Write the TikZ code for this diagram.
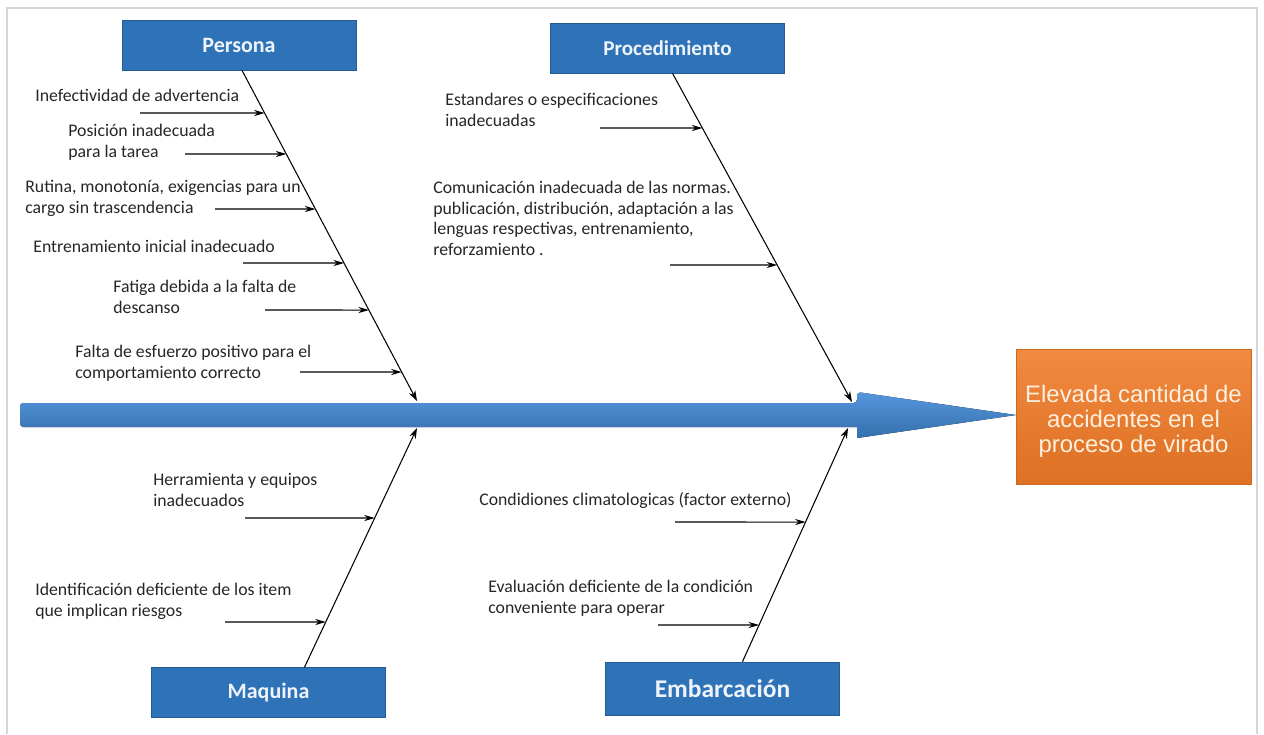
\documentclass[tikz,border=0pt]{standalone}
\usepackage{fontspec}
\setmainfont{Carlito}
\newfontfamily\arialfont{Liberation Sans}
\usepackage{tikz}
\usetikzlibrary{arrows.meta,positioning,calc}
\definecolor{catblue}{HTML}{2E72B8}
\definecolor{spineblue}{HTML}{428BD8}
\definecolor{efforange}{HTML}{F07A26}
\definecolor{framegray}{HTML}{D6D6D6}

\begin{document}
\begin{tikzpicture}[x=0.02cm,y=-0.02cm,
  cat/.style={draw=catblue!80!black,fill=catblue,minimum width=4.68cm,minimum height=1cm,
              inner sep=0pt,text=white!92!catblue,font=\fontsize{12.5}{14}\selectfont\bfseries},
  cause/.style={anchor=north west,inner sep=0pt,align=left,text=black!85,
                font=\fontsize{10.1}{12.1}\selectfont},
  bone/.style={-{Stealth[length=6pt,width=4pt]},line width=0.6pt},
  sub/.style={-{Stealth[length=6pt,width=3.5pt]},line width=0.6pt},
  effect/.style={draw=efforange!85!black,top color=efforange!88!white,bottom color=efforange!92!black,
                 minimum width=4.7cm,minimum height=2.7cm,inner sep=0pt,align=center,
                 text=orange!12!white,font=\arialfont\fontsize{13.6}{14.3}\selectfont},
]
  \useasboundingbox (0,0) rectangle (1264,734);
  \draw[framegray,line width=0.8pt] (7,734) -- (7,8) -- (1257,8) -- (1257,734);

  % spine
  \fill[top color=spineblue!90!white,bottom color=spineblue!80!black,rounded corners=2pt]
    (20,403) -- (857,403) -- (857,392) [sharp corners] -- (1016,415) -- (857,438) -- (857,427) [rounded corners=2pt] -- (20,427) -- cycle;
  \node[effect] (efecto) at (1133.5,416.5) {\rule{0pt}{15.5pt}Elevada cantidad de\\accidentes en el\\proceso de virado};

  % categories
  \node[cat] (persona) at (239,45) {Persona};
  \node[cat,font=\fontsize{12}{14}\selectfont\bfseries] (procedimiento) at (667.5,48) {Procedimiento};
  \node[cat] (maquina) at (268.5,692.5) {Maquina};
  \node[cat,minimum height=1.06cm,font=\fontsize{14.5}{16}\selectfont\bfseries] (embarcacion) at (722.5,688.5) {Embarcación};

  % bones
  \coordinate (perA) at ($(persona.south)+(3,0)$);
  \coordinate (perB) at (417,401);
  \coordinate (proA) at ($(procedimiento.south)+(5,0)$);
  \coordinate (proB) at (852,402);
  \coordinate (maqA) at ($(maquina.north)+(36,0)$);
  \coordinate (maqB) at (417,428);
  \coordinate (embA) at ($(embarcacion.north)+(20,0)$);
  \coordinate (embB) at (848,428);
  \draw[bone] (perA) -- (perB);
  \draw[bone] (proA) -- (proB);
  \draw[bone] (maqA) -- (maqB);
  \draw[bone] (embA) -- (embB);

  % causes
  \node[cause] (per1) at (35,89) {Inefectividad de advertencia};
  \node[cause] (per2) at (68,124) {Posición inadecuada\\para la tarea};
  \node[cause] (per3) at (25,180) {Rutina, monotonía, exigencias para un\\cargo sin trascendencia};
  \node[cause] (per4) at (33,240) {Entrenamiento inicial inadecuado};
  \node[cause] (per5) at (113,280) {Fatiga debida a la falta de\\descanso};
  \node[cause] (per6) at (75,345) {Falta de esfuerzo positivo para el\\comportamiento correcto};

  \node[cause] (pro1) at (445,93) {Estandares o especificaciones\\inadecuadas};
  \node[cause,font=\fontsize{10.1}{11.7}\selectfont] (pro2) at (433,181)
    {Comunicación inadecuada de las normas.\\publicación, distribución, adaptación a las\\lenguas respectivas, entrenamiento,\\reforzamiento .};

  \node[cause] (maq1) at (153,473) {Herramienta y equipos\\inadecuados};
  \node[cause] (maq2) at (35,583) {Identificación deficiente de los item\\que implican riesgos};

  \node[cause] (emb1) at (479,492) {Condidiones climatologicas (factor externo)};
  \node[cause] (emb2) at (488,580) {Evaluación deficiente de la condición\\conveniente para operar};

  % cause arrows
  \foreach \n/\x/\y in {1/140/113,2/185/154,3/215/209,4/243/263,5/265/310,6/300/372}{
    \coordinate (pers\n) at (\x,\y);
    \coordinate (perr\n) at (1000,\y);
    \draw[sub] (pers\n) -- (intersection of perA--perB and pers\n--perr\n);
  }
  \foreach \n/\x/\y in {1/600/128,2/670/265}{
    \coordinate (pros\n) at (\x,\y);
    \coordinate (pror\n) at (1000,\y);
    \draw[sub] (pros\n) -- (intersection of proA--proB and pros\n--pror\n);
  }
  \foreach \n/\x/\y in {1/245/518,2/225/622}{
    \coordinate (maqs\n) at (\x,\y);
    \coordinate (maqr\n) at (1000,\y);
    \draw[sub] (maqs\n) -- (intersection of maqA--maqB and maqs\n--maqr\n);
  }
  \foreach \n/\x/\y in {1/675/522,2/658/625}{
    \coordinate (embs\n) at (\x,\y);
    \coordinate (embr\n) at (1000,\y);
    \draw[sub] (embs\n) -- (intersection of embA--embB and embs\n--embr\n);
  }
\end{tikzpicture}
\end{document}
